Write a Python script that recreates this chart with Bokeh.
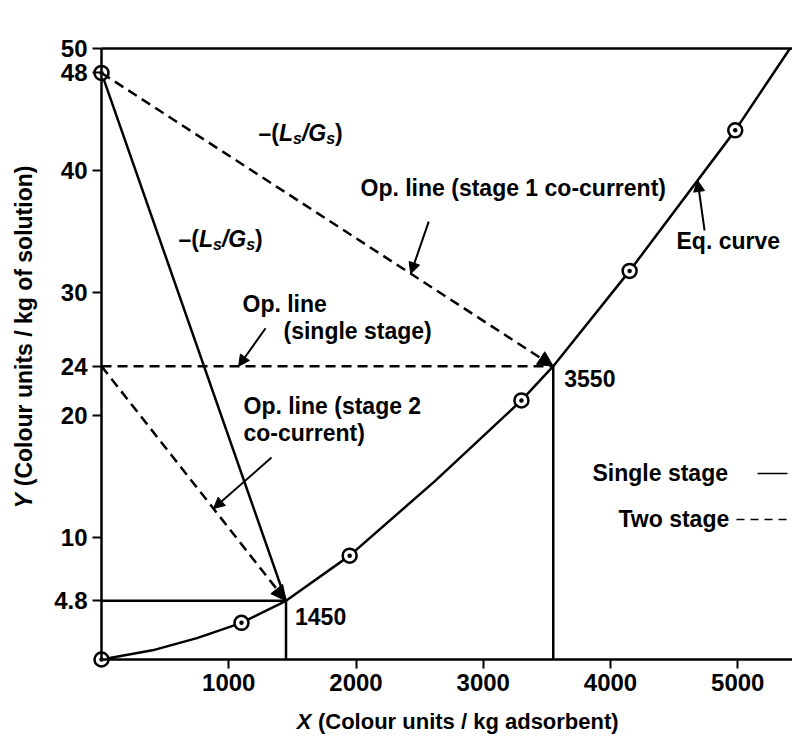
import numpy as np
from bokeh.plotting import figure
from bokeh.models import (Range1d, FixedTicker, NumeralTickFormatter, Label, Arrow,
                          NormalHead)
from bokeh.embed import file_html
from bokeh.resources import INLINE

# ---------------- data ----------------
# equilibrium data points (circles)
eq_pts_x = [0, 1100, 1950, 3300, 4150, 4980]
eq_pts_y = [0, 3.0, 8.5, 21.2, 31.8, 43.3]
# equilibrium curve
curve_x = [0, 400, 750, 1100, 1450, 1950, 2620, 3300, 3550, 4150, 4980, 5410]
curve_y = [0, 0.75, 1.75, 3.0, 4.8, 8.5, 14.6, 21.2, 24.0, 31.8, 43.3, 50.0]
# feed and final states
feed_x = [0]
feed_y = [48]
X_single, Y_single = 1450, 4.8      # single stage (and stage 2 of two stage)
X_stage1, Y_stage1 = 3550, 24       # stage 1 of two stage co-current
x_ticks = [1000, 2000, 3000, 4000, 5000]
y_ticks = [4.8, 10, 20, 24, 30, 40, 48, 50]
X_END, Y_END = 5430, 50

# ---------------- geometry / style ----------------
W, H = 792, 738
FONT = "Liberation Sans"
FS = 23       # annotation text size (px)
TFS = "24px"  # tick label size
LW = 2.5
DASH = "10 6"

# pixel position of data origin and pixel-per-unit scales
PX0, PY0 = 101, 659
SX = 691 / X_END
SY = 611 / Y_END
def dx(px):
    return (px - PX0) / SX
def dy(py):
    return (PY0 - py) / SY

p = figure(width=W, height=H, output_backend="svg", toolbar_location=None,
           x_range=Range1d(dx(0), dx(W)), y_range=Range1d(dy(H), dy(0)),
           min_border_left=0, min_border_right=0, min_border_top=0,
           min_border_bottom=0)
p.outline_line_color = None
p.grid.visible = False
p.background_fill_color = "white"
p.border_fill_color = "white"

for ax in (p.xaxis[0], p.yaxis[0]):
    ax.fixed_location = 0
    ax.axis_line_width = LW
    ax.axis_line_color = "black"
    ax.major_tick_line_width = 2
    ax.major_tick_line_color = "black"
    ax.major_tick_out = 9
    ax.major_tick_in = 0
    ax.minor_tick_out = 0
    ax.minor_tick_in = 0
    ax.major_label_text_font = FONT
    ax.major_label_text_font_size = TFS
    ax.major_label_text_font_style = "bold"
    ax.major_label_text_color = "black"
    ax.major_label_standoff = 5
p.xaxis.ticker = FixedTicker(ticks=x_ticks)
p.yaxis.ticker = FixedTicker(ticks=y_ticks)
p.yaxis.formatter = NumeralTickFormatter(format="0[.]0")
p.xaxis.bounds = (0, X_END)
p.yaxis.bounds = (0, Y_END)

# top frame line
p.add_layout(Arrow(end=None, x_start=0, y_start=Y_END, x_end=X_END, y_end=Y_END,
                   line_width=LW, line_color="black"))

# equilibrium curve
p.line(curve_x, curve_y, line_width=LW, line_color="black")
# single stage operating line (solid) and construction lines
p.line([feed_x[0], X_single], [feed_y[0], Y_single], line_width=LW, line_color="black")
p.line([0, X_single], [Y_single, Y_single], line_width=LW, line_color="black")
p.line([X_single, X_single], [0, Y_single], line_width=LW, line_color="black")
p.line([X_stage1, X_stage1], [0, Y_stage1], line_width=LW, line_color="black")
# horizontal dashed at Y_stage1
p.line([0, X_stage1], [Y_stage1, Y_stage1], line_width=LW, line_color="black",
       line_dash=DASH)

def head(size):
    return NormalHead(size=size, fill_color="black", line_color="black", line_width=1)

# dashed two-stage operating lines with arrow heads
p.add_layout(Arrow(end=head(15), x_start=feed_x[0], y_start=feed_y[0],
                   x_end=X_stage1, y_end=Y_stage1, line_width=LW,
                   line_color="black", line_dash=DASH))
p.add_layout(Arrow(end=head(15), x_start=0, y_start=Y_stage1,
                   x_end=X_single, y_end=Y_single, line_width=LW,
                   line_color="black", line_dash=DASH))

# markers (ring + centre dot)
for xs, ys in ((eq_pts_x, eq_pts_y), (feed_x, feed_y)):
    p.scatter(xs, ys, marker="circle", size=14, line_width=2.5,
              line_color="black", fill_color="white")
    p.scatter(xs, ys, marker="circle", size=4.5, line_width=0,
              fill_color="black")

# pointer arrows: tip on a line, tail offset in pixels
def pointer(tx, ty, ox, oy):
    p.add_layout(Arrow(end=head(11), x_start=tx + ox / SX, y_start=ty + oy / SY,
                       x_end=tx, y_end=ty, line_width=2, line_color="black"))

t1x = 2430
pointer(t1x, float(np.interp(t1x, [0, X_stage1], [feed_y[0], Y_stage1])), 18, 52)
t2x = 4684
pointer(t2x, float(np.interp(t2x, curve_x, curve_y)), 7, -50)
pointer(1077, Y_stage1, 27, 38)
t4x = 880
pointer(t4x, float(np.interp(t4x, [0, X_single], [Y_stage1, Y_single])), 58, 51)

# text helpers (bold Arial-metric widths)
WID = {'–': .556, '(': .333, ')': .333, 'L': .611, 's': .556, '/': .278, 'G': .778,
       'X': .667, 'Y': .667, ' ': .278}
def tw(t, fs):
    return sum(WID.get(c, .556) for c in t) * fs

def label(px, py, text, size=FS, style="bold", align="left", **kw):
    p.add_layout(Label(x=dx(px), y=dy(py), text=text, text_font=FONT,
                       text_font_size=f"{size}px", text_font_style=style,
                       text_color="black", text_align=align,
                       text_baseline="middle", **kw))

def rich(px, py, pieces, angle=0):
    """pieces: (text, style, size, baseline shift, extra gap before)"""
    off = 0.0
    for text, style, fs, sub, gap in pieces:
        off += gap * fs
        if angle == 0:
            label(px, py, text, size=fs, style=style, x_offset=off, y_offset=sub)
        else:
            label(px, py, text, size=fs, style=style, x_offset=-sub,
                  y_offset=off, angle=angle, angle_units="deg")
        off += tw(text, fs)

LSGS = [("–(", "bold", FS, 0, 0), ("L", "bold italic", FS, 0, 0),
        ("s", "bold italic", 16, -6, 0), ("/G", "bold italic", FS, 0, 0),
        ("s", "bold italic", 16, -6, 0), (")", "bold", FS, 0, 0)]
rich(258, 132, LSGS)
rich(178, 238, LSGS)

label(360, 187, "Op. line (stage 1 co-current)")
label(676, 240, "Eq. curve")
label(242, 303, "Op. line")
label(283, 330, "(single stage)")
label(243, 405, "Op. line (stage 2")
label(243, 432, "co-current)")
label(592, 472, "Single stage")
label(618, 518, "Two stage")

# legend keys
p.add_layout(Arrow(end=None, x_start=dx(757), y_start=dy(473), x_end=dx(787),
                   y_end=dy(473), line_width=1.5, line_color="black"))
p.add_layout(Arrow(end=None, x_start=dx(736), y_start=dy(519), x_end=dx(792),
                   y_end=dy(519), line_width=1.5, line_color="black", line_dash="8 6"))

# value labels at the intersections
for xv, yv, xo, yo, txt in ((X_single, Y_single, 9, -16, "1450"),
                            (X_stage1, Y_stage1, 11, -12, "3550")):
    p.add_layout(Label(x=xv, y=yv, text=txt, text_font=FONT,
                       text_font_size=f"{FS}px", text_font_style="bold",
                       text_color="black", text_align="left",
                       text_baseline="middle", x_offset=xo, y_offset=yo))

# axis titles with italic symbols
xl = [("X", "bold italic", 22, 0, 0), ("(Colour units / kg adsorbent)", "bold", 22, 0, 0.3)]
total = sum(tw(t, f) + g * f for t, _, f, _, g in xl)
rich(464 - total / 2, 721, xl)
yl = [("Y", "bold italic", 23, 0, 0), ("(Colour units / kg of solution)", "bold", 23, 0, 0.3)]
rich(23, 508, yl, angle=90)

open("out.html", "w").write(file_html(p, INLINE))
